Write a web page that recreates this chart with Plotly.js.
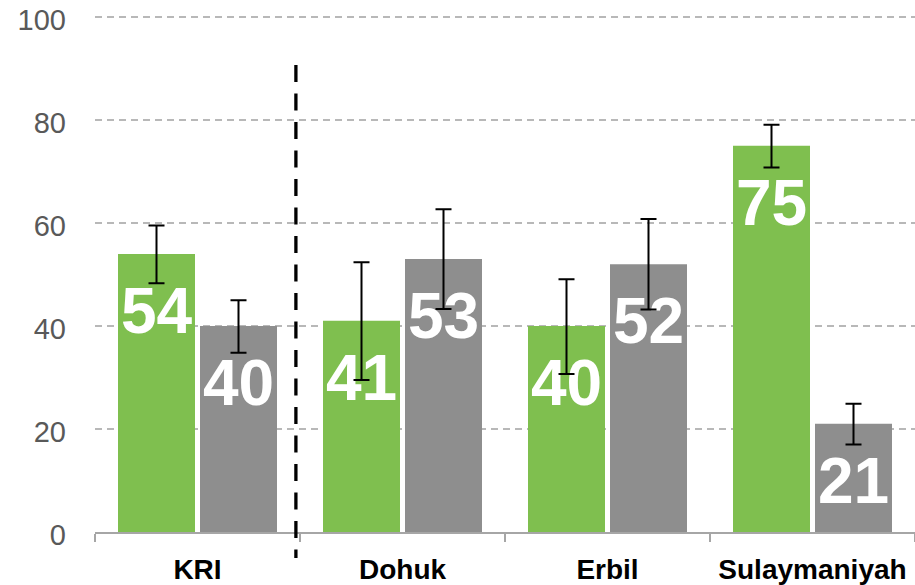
<!DOCTYPE html>
<html><head><meta charset="utf-8">
<script src="https://cdn.plot.ly/plotly-3.0.1.min.js"></script>
<style>html,body{margin:0;padding:0;background:#fff}#chart{width:915px;height:585px}</style>
</head><body><div id="chart"></div>
<script>
const categories = ['KRI', 'Dohuk', 'Erbil', 'Sulaymaniyah'];
const greenValues = [54, 41, 40, 75];
const greyValues = [40, 53, 52, 21];
const greenErrPlus = [5.5, 11.4, 9.1, 4.1];
const greenErrMinus = [5.7, 11.5, 9.3, 4.2];
const greyErrPlus = [5.0, 9.7, 8.8, 3.9];
const greyErrMinus = [5.2, 9.7, 8.8, 4.0];
const yTickValues = [0, 20, 40, 60, 80, 100];
const yTickLabels = ['0', '20', '40', '60', '80', '100'];

const GREEN = '#7fbf4f';
const GREY = '#8e8e8e';
const FONT = 'Liberation Sans, Arial, sans-serif';

function barTrace(vals, color, grp) {
  return {
    type: 'bar', x: categories, y: vals,
    marker: {color: color, line: {width: 0}},
    offsetgroup: grp, alignmentgroup: 'a',
    hoverinfo: 'skip', showlegend: false
  };
}
function labelTrace(vals, grp) {
  return {
    type: 'scatter', mode: 'markers+text', x: categories, y: vals,
    text: vals.map(String), textposition: 'bottom center',
    textfont: {family: FONT, size: 64, color: '#ffffff', weight: 'bold'},
    marker: {size: 48, color: 'rgba(0,0,0,0)', line: {width: 0}},
    offsetgroup: grp, alignmentgroup: 'a',
    hoverinfo: 'skip', showlegend: false
  };
}
function errTrace(vals, plus, minus, grp) {
  return {
    type: 'scatter', mode: 'markers', x: categories, y: vals,
    marker: {size: 1, color: 'rgba(0,0,0,0)'},
    error_y: {type: 'data', symmetric: false, array: plus, arrayminus: minus,
              color: '#000000', thickness: 2, width: 8},
    offsetgroup: grp, alignmentgroup: 'a',
    hoverinfo: 'skip', showlegend: false
  };
}

const data = [
  barTrace(greenValues, GREEN, 'g'),
  barTrace(greyValues, GREY, 'r'),
  labelTrace(greenValues, 'g'),
  labelTrace(greyValues, 'r'),
  errTrace(greenValues, greenErrPlus, greenErrMinus, 'g'),
  errTrace(greyValues, greyErrPlus, greyErrMinus, 'r')
];

const layout = {
  width: 915, height: 585,
  margin: {l: 95, r: 0, t: 15, b: 53, pad: 0},
  paper_bgcolor: '#ffffff', plot_bgcolor: '#ffffff',
  font: {family: FONT},
  barmode: 'group', bargap: 0.2, bargroupgap: 0.061,
  scattermode: 'group', scattergap: 0.2,
  showlegend: false,
  xaxis: {
    type: 'category', range: [-0.5, 3.5], automargin: false,
    showline: true, linecolor: '#a6a6a6', linewidth: 1.5,
    ticks: 'outside', tickson: 'boundaries', ticklen: 8, tickwidth: 1.5, tickcolor: '#a6a6a6',
    ticklabelstandoff: 12,
    tickfont: {family: FONT, size: 28, color: '#000000', weight: 'bold'},
    showgrid: false, zeroline: false, fixedrange: true
  },
  yaxis: {
    range: [0, 100.4], automargin: false,
    tickmode: 'array', tickvals: yTickValues, ticktext: yTickLabels,
    ticks: '', ticklabelstandoff: 28, ticklabelshift: 3,
    tickfont: {family: FONT, size: 29, color: '#595959'},
    showgrid: true, gridcolor: '#b8b8b8', gridwidth: 1.75, griddash: '7px,5px',
    zeroline: false, showline: false, fixedrange: true
  },
  shapes: [{
    type: 'line', xref: 'x', yref: 'paper',
    x0: 0.48, x1: 0.48, y0: 0.9035, y1: -0.0505,
    line: {color: '#000000', width: 3.3, dash: '17px,11.5px'},
    layer: 'above'
  }]
};

Plotly.newPlot('chart', data, layout, {staticPlot: true, displayModeBar: false});
</script>
</body></html>
